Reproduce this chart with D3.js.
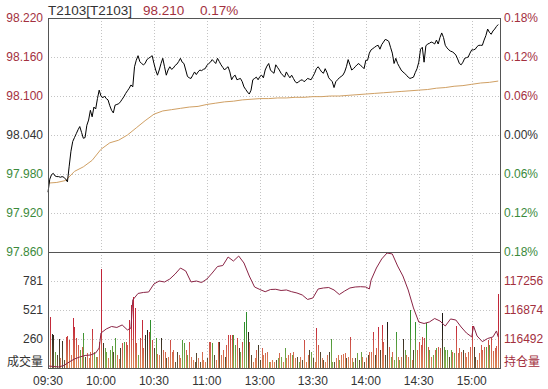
<!DOCTYPE html>
<html>
<head>
<meta charset="utf-8">
<script src="https://cdn.jsdelivr.net/npm/d3@7"></script>
<style>
  body { margin: 0; background: #fff; }
  text { font-family: "Liberation Sans", Arial, sans-serif; font-size: 12px; }
  .cjk { font-family: "Noto Sans CJK SC", sans-serif; }
</style>
</head>
<body>
<svg id="chart"></svg>
<script>
const width = 548;
const height = 389;

const symbol = 'T2103[T2103]';
const lastPrice = '98.210';
const lastPct = '0.17%';
const preClose = 98.040;

const timeLabels = ['09:30', '10:00', '10:30', '11:00', '13:00', '13:30', '14:00', '14:30', '15:00'];
const timeIndex = [0, 30, 60, 90, 120, 150, 180, 210, 240];
const priceTicks = [98.220, 98.160, 98.100, 98.040, 97.980, 97.920, 97.860];

// minute prices 09:30 .. 15:15
const price = [
  97.952, 97.972, 97.979, 97.981, 97.977, 97.976, 97.976, 97.975, 97.976, 97.975,
  97.972, 97.968, 97.992, 98.015, 98.030, 98.036, 98.042, 98.048, 98.053, 98.044,
  98.035, 98.036, 98.055, 98.063, 98.078, 98.068, 98.083, 98.080, 98.096, 98.109,
  98.100, 98.097, 98.100, 98.096, 98.094, 98.085, 98.078, 98.074, 98.086, 98.087,
  98.088, 98.091, 98.095, 98.099, 98.104, 98.108, 98.112, 98.117, 98.114, 98.145,
  98.155, 98.162, 98.153, 98.150, 98.148, 98.150, 98.156, 98.158, 98.160, 98.162,
  98.150, 98.140, 98.132, 98.140, 98.150, 98.158, 98.145, 98.132, 98.140, 98.145,
  98.141, 98.143, 98.147, 98.149, 98.153, 98.158, 98.152, 98.150, 98.140, 98.130,
  98.128, 98.127, 98.132, 98.137, 98.133, 98.137, 98.140, 98.139, 98.141, 98.142,
  98.147, 98.150, 98.152, 98.156, 98.153, 98.150, 98.158, 98.153, 98.148, 98.144,
  98.140, 98.143, 98.145, 98.137, 98.125, 98.130, 98.132, 98.125, 98.126, 98.127,
  98.122, 98.114, 98.110, 98.106, 98.103, 98.109, 98.125, 98.127, 98.129, 98.125,
  98.130, 98.132, 98.128, 98.140, 98.146, 98.150, 98.140, 98.137, 98.135, 98.148,
  98.144, 98.140, 98.135, 98.132, 98.129, 98.137, 98.132, 98.128, 98.132, 98.127,
  98.122, 98.120, 98.122, 98.124, 98.125, 98.122, 98.124, 98.127, 98.126, 98.125,
  98.130, 98.135, 98.142, 98.145, 98.141, 98.137, 98.135, 98.142, 98.136, 98.128,
  98.125, 98.122, 98.113, 98.122, 98.125, 98.128, 98.130, 98.132, 98.137, 98.145,
  98.156, 98.148, 98.140, 98.142, 98.145, 98.148, 98.150, 98.147, 98.145, 98.142,
  98.155, 98.155, 98.166, 98.171, 98.173, 98.175, 98.177, 98.178, 98.172, 98.179,
  98.183, 98.187, 98.186, 98.184, 98.175, 98.166, 98.150, 98.158, 98.150, 98.145,
  98.140, 98.137, 98.135, 98.132, 98.129, 98.127, 98.128, 98.129, 98.136, 98.142,
  98.152, 98.172, 98.175, 98.152, 98.177, 98.180, 98.181, 98.183, 98.182, 98.180,
  98.186, 98.180, 98.190, 98.197, 98.190, 98.178, 98.174, 98.171, 98.169, 98.168,
  98.166, 98.163, 98.157, 98.150, 98.148, 98.152, 98.158, 98.159, 98.160, 98.166,
  98.171, 98.171, 98.172, 98.176, 98.178, 98.178, 98.178, 98.186, 98.193, 98.203,
  98.198, 98.195, 98.200, 98.203, 98.207, 98.210
];

// average price line, read every 5 minutes
const avgIndex = [0, 5, 10, 15, 20, 25, 30, 35, 40, 45, 50, 55, 60, 65, 70, 75, 80, 85, 90, 95,
  100, 105, 110, 115, 120, 125, 130, 135, 140, 145, 150, 155, 160, 165, 170, 175, 180, 185, 190, 195,
  200, 205, 210, 215, 220, 225, 230, 235, 240, 245, 250, 255];
const avgPrice = [97.966, 97.967, 97.970, 97.984, 97.991, 98.001, 98.018, 98.028, 98.032, 98.040,
  98.051, 98.062, 98.072, 98.077, 98.079, 98.081, 98.083, 98.084, 98.087, 98.089,
  98.091, 98.092, 98.094, 98.095, 98.096, 98.096, 98.097, 98.097, 98.098, 98.098,
  98.099, 98.099, 98.100, 98.100, 98.101, 98.102, 98.103, 98.104, 98.105, 98.106,
  98.107, 98.108, 98.109, 98.110, 98.112, 98.113, 98.115, 98.116, 98.118, 98.120,
  98.121, 98.123];

// minute volume and bar colour (r up, g down, k flat)
const volume = [
  1100, 460, 305, 296, 140, 117, 260, 87, 242, 72,
  281, 290, 251, 117, 452, 371, 272, 206, 161, 191,
  311, 102, 132, 87, 147, 350, 147, 102, 102, 236,
  890, 221, 176, 147, 87, 161, 200, 140, 272, 117,
  81, 182, 221, 236, 230, 206, 430, 565, 640, 535,
  221, 117, 266, 430, 176, 296, 341, 326, 430, 251,
  176, 268, 130, 120, 266, 161, 147, 87, 102, 251,
  147, 161, 57, 147, 117, 87, 251, 221, 161, 117,
  236, 102, 72, 57, 132, 87, 57, 147, 72, 57,
  87, 236, 236, 221, 117, 72, 236, 230, 117, 161,
  102, 206, 296, 296, 296, 296, 206, 266, 176, 147,
  230, 416, 500, 326, 230, 117, 57, 87, 161, 206,
  72, 176, 117, 132, 147, 57, 57, 72, 57, 72,
  87, 132, 102, 57, 176, 87, 117, 132, 117, 147,
  87, 102, 57, 102, 72, 251, 57, 117, 161, 147,
  87, 57, 362, 206, 147, 87, 72, 57, 117, 147,
  260, 57, 57, 87, 117, 72, 117, 123, 132, 87,
  102, 281, 87, 57, 87, 132, 72, 147, 102, 57,
  87, 117, 147, 140, 320, 117, 176, 371, 161, 386,
  236, 117, 416, 191, 102, 147, 72, 326, 102, 72,
  102, 257, 161, 117, 102, 520, 72, 161, 416, 161,
  236, 206, 275, 266, 401, 191, 161, 102, 117, 161,
  176, 191, 176, 496, 191, 161, 161, 102, 161, 147,
  132, 377, 132, 176, 147, 161, 132, 102, 147, 191,
  377, 191, 102, 72, 132, 206, 161, 191, 191, 251,
  206, 266, 150, 180, 200, 665
];
const volDir = (
  'grkkgkkrkk' + 'rrrrrrrrgr' + 'gkrrrrggrr' + 'rkggrggkgr' + 'rkrgrrrrrr' +
  'rgrrrkkrgr' + 'kgrrkrrkrr' + 'rrkkrrggrg' + 'rrrkkrkrrr' + 'krrgkrrkrr' +
  'krrrrggrkg' + 'rggkrkrrrk' + 'krrrrgrrrk' + 'grgrgrrrgr' + 'rkgrkrrrkg' +
  'krrrkrkrrk' + 'ggkrrgrrrk' + 'rrrgkgkgrk' + 'rkrrrkrrkr' + 'rkkrgrggrg' +
  'rkgrrgrkgr' + 'rrrrgrgrgr' + 'grrkgggkgr' + 'grrrrkrrrr' + 'rkkrrrrrgr' +
  'grrrrr').split('');

// open interest, read every few minutes
const oiIndex = [0, 3, 6, 9, 12, 15, 18, 21, 24, 27, 29, 30, 33, 36, 39, 42, 45, 47, 48, 51,
  54, 57, 60, 63, 66, 69, 72, 75, 78, 81, 84, 87, 90, 93, 96, 99, 102, 105, 108, 111,
  114, 117, 120, 123, 126, 129, 132, 135, 138, 141, 144, 147, 150, 153, 156, 159, 162, 165, 168, 171,
  174, 177, 180, 182, 183, 186, 189, 192, 195, 198, 201, 204, 207, 210, 213, 216, 219, 222, 225, 228,
  231, 234, 237, 240, 241, 243, 246, 249, 252, 254, 255];
const oiValue = [116137, 116130, 116124, 116143, 116189, 116229, 116255, 116275, 116281, 116308, 116374, 116571,
  116624, 116657, 116644, 116677, 116611, 116637, 117006, 117092,
  117105, 117111, 117217, 117256, 117243, 117282, 117348, 117427, 117388, 117243,
  117256, 117236, 117282, 117361, 117447, 117460, 117572, 117519, 117585, 117493,
  117322, 117177, 117144, 117115, 117144, 117147, 117131, 117138, 117115, 117098,
  117072, 117013, 117032, 117151, 117164, 117170, 117138, 117078, 117124, 117164,
  117177, 117181, 117177, 117151, 117269, 117427, 117546, 117625, 117612, 117454,
  117322, 117138, 116901, 116716, 116696, 116716, 116762, 116729, 116663, 116756,
  116742, 116650, 116571, 116519, 116663, 116532, 116457, 116499, 116519, 116598, 116519];

const volMax = 1041;
const oiMin = 116110;
const oiStep = 382;

const upColor = '#a3303e';
const downColor = '#3b8a3b';
const flatColor = '#333';

const plotL = 48, plotR = 500, plotT = 18, plotM = 252, plotB = 368;

const svg = d3.select('#chart')
  .attr('width', width)
  .attr('height', height);

const x = d3.scaleLinear().domain([0, 256]).range([plotL, plotR]);
const y = d3.scaleLinear().domain([97.860, 98.220]).range([plotM, plotT]);
const yVol = d3.scaleLinear().domain([0, volMax]).range([plotB, plotM]);
const yOi = d3.scaleLinear().domain([oiMin, oiMin + oiStep * 4]).range([plotB, plotM]);

const volTicks = [1, 2, 3].map(k => volMax / 4 * k);
const oiTicks = [1, 2, 3].map(k => oiMin + oiStep * k);

// 网格
const grid = svg.append('g')
  .attr('stroke', '#c4c4c4')
  .attr('stroke-dasharray', '1,2')
  .attr('shape-rendering', 'crispEdges');
grid.selectAll('.hp')
  .data(priceTicks.slice(1, -1))
  .enter().append('line')
  .attr('x1', plotL).attr('x2', plotR)
  .attr('y1', d => Math.round(y(d)) + 0.5)
  .attr('y2', d => Math.round(y(d)) + 0.5);
grid.selectAll('.hv')
  .data(volTicks)
  .enter().append('line')
  .attr('x1', plotL).attr('x2', plotR)
  .attr('y1', d => Math.round(yVol(d)) + 0.5)
  .attr('y2', d => Math.round(yVol(d)) + 0.5);
grid.selectAll('.vt')
  .data(timeIndex.slice(1))
  .enter().append('line')
  .attr('x1', d => Math.round(x(d)) + 0.5)
  .attr('x2', d => Math.round(x(d)) + 0.5)
  .attr('y1', plotT).attr('y2', plotB);

// 成交量柱
const defs = svg.append('defs');
const gradStops = {
  r: ['#c02036', '#c42a3a', '#dc8a5a'],
  g: ['#23862a', '#2f8f2c', '#8cae52'],
  k: ['#111111', '#1e1a16', '#6e5a38']
};
Object.keys(gradStops).forEach(key => {
  const g = defs.append('linearGradient')
    .attr('id', 'vg_' + key)
    .attr('gradientUnits', 'userSpaceOnUse')
    .attr('x1', 0).attr('x2', 0)
    .attr('y1', plotM).attr('y2', plotB);
  g.append('stop').attr('offset', '0%').attr('stop-color', gradStops[key][0]);
  g.append('stop').attr('offset', '65%').attr('stop-color', gradStops[key][1]);
  g.append('stop').attr('offset', '100%').attr('stop-color', gradStops[key][2]);
});

svg.append('g')
  .attr('shape-rendering', 'crispEdges')
  .selectAll('rect')
  .data(volume)
  .enter().append('rect')
  .attr('x', (d, i) => Math.round(x(i)))
  .attr('width', 1)
  .attr('y', d => yVol(Math.min(d, volMax)))
  .attr('height', d => plotB - yVol(Math.min(d, volMax)))
  .attr('fill', (d, i) => 'url(#vg_' + volDir[i] + ')');

// 持仓量
svg.append('path')
  .datum(oiIndex)
  .attr('fill', 'none')
  .attr('stroke', '#8a2445')
  .attr('stroke-width', 1)
  .attr('d', d3.line().x(d => x(d)).y((d, k) => yOi(oiValue[k])));

// 均价线
svg.append('path')
  .datum(avgIndex)
  .attr('fill', 'none')
  .attr('stroke', '#d0a064')
  .attr('stroke-width', 1)
  .attr('d', d3.line().x(d => x(d)).y((d, k) => y(avgPrice[k])));

// 价格线
svg.append('path')
  .datum(price)
  .attr('fill', 'none')
  .attr('stroke', '#000')
  .attr('stroke-width', 1)
  .attr('d', d3.line().x((d, i) => x(i)).y(d => y(d)));

// 边框
const frame = svg.append('g')
  .attr('stroke', '#555')
  .attr('fill', 'none')
  .attr('shape-rendering', 'crispEdges');
frame.append('rect')
  .attr('x', plotL + 0.5).attr('y', plotT + 0.5)
  .attr('width', plotR - plotL).attr('height', plotB - plotT);
frame.append('line')
  .attr('x1', plotL).attr('x2', plotR)
  .attr('y1', plotM + 0.5).attr('y2', plotM + 0.5);

// 左侧价格刻度
const priceColor = d => d > preClose + 1e-9 ? upColor : (d < preClose - 1e-9 ? downColor : flatColor);
svg.append('g')
  .selectAll('text')
  .data(priceTicks)
  .enter().append('text')
  .attr('x', plotL - 5)
  .attr('y', d => y(d))
  .attr('dy', '0.36em')
  .attr('text-anchor', 'end')
  .attr('fill', priceColor)
  .text(d => d.toFixed(3));

// 右侧涨跌幅
svg.append('g')
  .selectAll('text')
  .data(priceTicks)
  .enter().append('text')
  .attr('x', plotR + 4)
  .attr('y', d => y(d))
  .attr('dy', '0.36em')
  .attr('fill', priceColor)
  .text(d => Math.abs((d - preClose) / preClose * 100).toFixed(2) + '%');

// 成交量刻度
svg.append('g')
  .selectAll('text')
  .data(volTicks)
  .enter().append('text')
  .attr('x', plotL - 5)
  .attr('y', d => yVol(d))
  .attr('dy', '0.36em')
  .attr('text-anchor', 'end')
  .attr('fill', flatColor)
  .text(d => Math.round(d));

// 持仓量刻度
svg.append('g')
  .selectAll('text')
  .data(oiTicks)
  .enter().append('text')
  .attr('x', plotR + 4)
  .attr('y', d => yOi(d))
  .attr('dy', '0.36em')
  .attr('fill', upColor)
  .text(d => d);

svg.append('text')
  .attr('class', 'cjk')
  .attr('x', plotL - 5).attr('y', 362)
  .attr('dy', '0.36em')
  .attr('text-anchor', 'end')
  .attr('fill', flatColor)
  .text('成交量');
svg.append('text')
  .attr('class', 'cjk')
  .attr('x', plotR + 4).attr('y', 362)
  .attr('dy', '0.36em')
  .attr('fill', upColor)
  .text('持仓量');

// 时间轴
svg.append('g')
  .selectAll('text')
  .data(timeIndex)
  .enter().append('text')
  .attr('x', d => x(d))
  .attr('y', 381)
  .attr('dy', '0.36em')
  .attr('text-anchor', 'middle')
  .attr('fill', flatColor)
  .text((d, i) => timeLabels[i]);

// 标题
const title = svg.append('g');
title.append('text').attr('x', 48).attr('y', 10).attr('dy', '0.36em')
  .attr('fill', flatColor).style('font-size', '13.5px').text(symbol);
title.append('text').attr('x', 143).attr('y', 10).attr('dy', '0.36em')
  .attr('fill', upColor).style('font-size', '13.5px').text(lastPrice);
title.append('text').attr('x', 200).attr('y', 10).attr('dy', '0.36em')
  .attr('fill', upColor).style('font-size', '13.5px').text(lastPct);
</script>
</body>
</html>
